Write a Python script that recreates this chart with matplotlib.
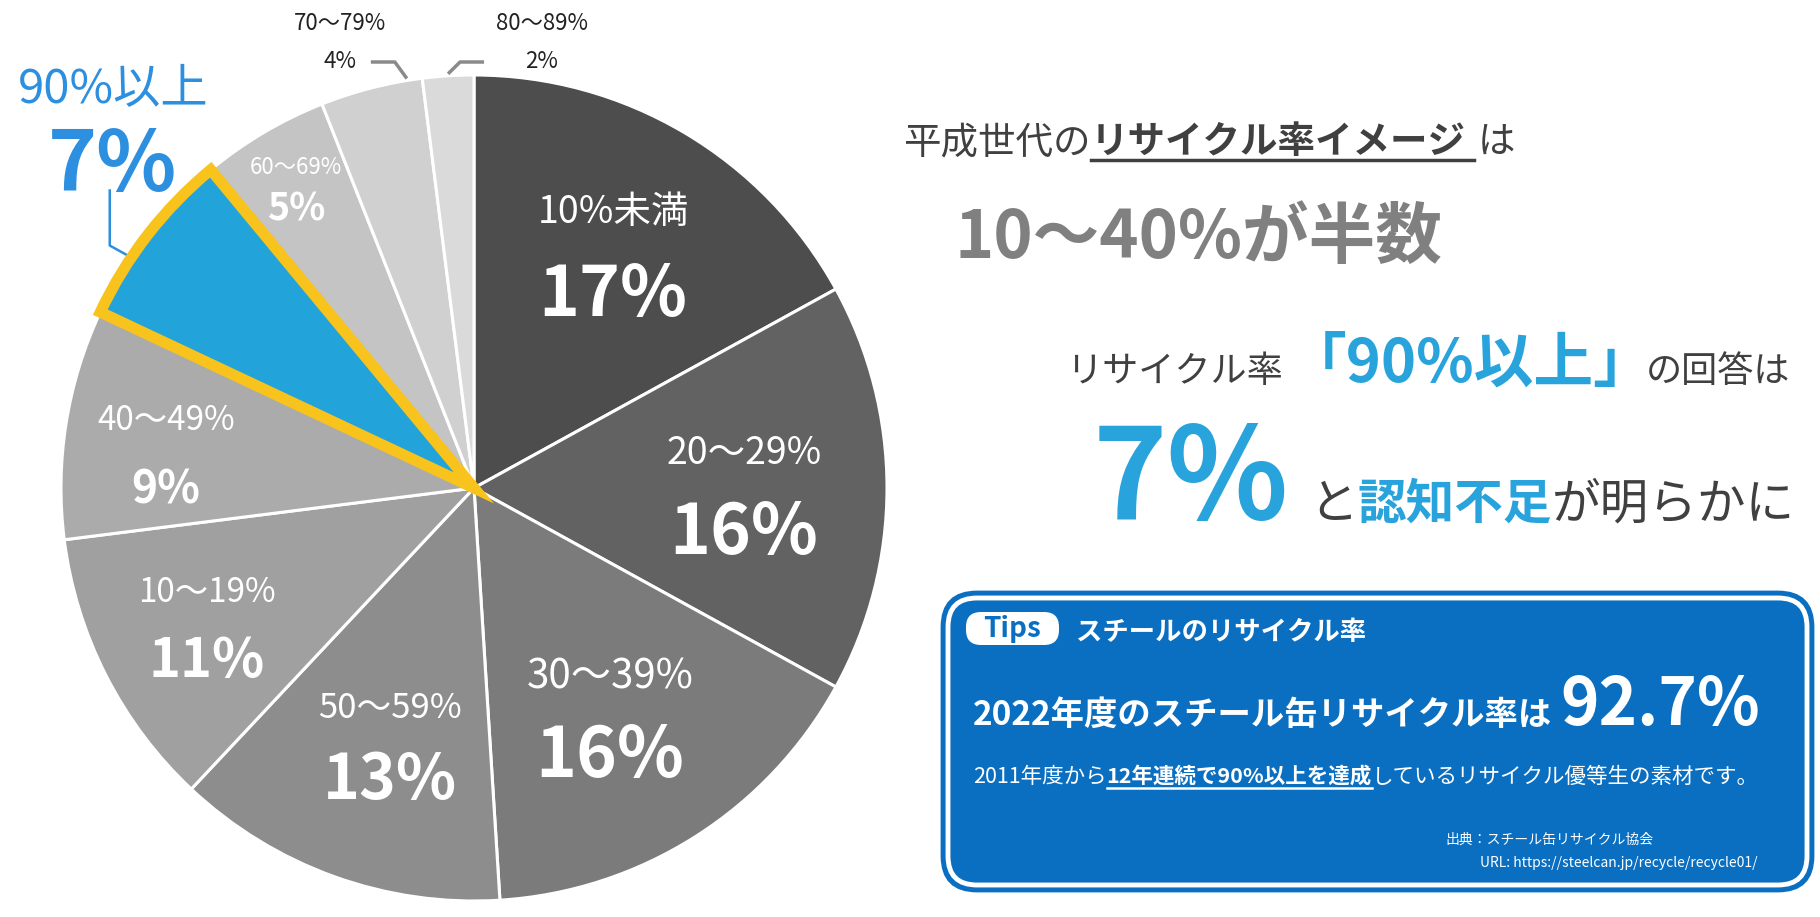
import matplotlib
matplotlib.use("Agg")
import matplotlib.pyplot as plt
from matplotlib.patches import FancyBboxPatch
import numpy as np

plt.rcParams['font.family'] = ['Noto Sans CJK JP', 'DejaVu Sans']

# data
labels = ['10%未満', '20〜29%', '30〜39%', '50〜59%', '10〜19%',
          '40〜49%', '90%以上', '60〜69%', '70〜79%', '80〜89%']
shares = [17, 16, 16, 13, 11, 9, 7, 5, 4, 2]
colors = ['#4d4d4d', '#626262', '#7b7b7b', '#8d8d8d', '#a0a0a0',
          '#ababab', '#22a3d9', '#c4c4c4', '#d0d0d0', '#dadada']

W, H = 1820, 917
fig = plt.figure(figsize=(W / 100, H / 100), dpi=100)
ax = fig.add_axes([0, 0, 1, 1])

cx, cy, R = 474, H - 488, 413
wedges, _ = ax.pie(shares, colors=colors, startangle=90, counterclock=False,
                   center=(cx, cy), radius=R,
                   wedgeprops=dict(edgecolor='white', linewidth=2.2))
hi = labels.index('90%以上')
wedges[hi].set_edgecolor('#f7c31c')
wedges[hi].set_linewidth(8)
wedges[hi].set_joinstyle('miter')
wedges[hi].set_zorder(5)

ax.set_xlim(0, W)
ax.set_ylim(0, H)
ax.set_aspect('equal')
ax.axis('off')


def put(x, y, s, **kw):
    # y given in image pixels (top = 0)
    return ax.text(x, H - y, s, **kw)


# labels inside the pie: (x, y range, y pct, range size, pct size)
lab_pos = {
    '10%未満': (613, 212, 296, 27, 50),
    '20〜29%': (744, 453, 534, 27, 50),
    '30〜39%': (610, 677, 757, 29, 50),
    '50〜59%': (390, 708, 781, 25, 45),
    '10〜19%': (207, 592, 662, 24, 39),
    '40〜49%': (166, 421, 491, 24, 32),
    '60〜69%': (296, 168, 209, 16, 27),
}
for name, (x, y1, y2, s1, s2) in lab_pos.items():
    v = shares[labels.index(name)]
    put(x, y1, name, ha='center', va='center', color='white', fontsize=s1)
    put(x, y2, f'{v}%', ha='center', va='center', color='white',
        fontsize=s2, fontweight='bold')

# small outside labels with leader lines
for name, x, frac, side in [('70〜79%', 340, 0.15, 1), ('80〜89%', 542, 0.5, -1)]:
    i = labels.index(name)
    w = wedges[i]
    th = np.radians(w.theta1 + frac * (w.theta2 - w.theta1))
    ex, ey = cx + R * np.cos(th), cy + R * np.sin(th)
    put(x, 23, name, ha='center', va='center', color='#222222', fontsize=16)
    put(x, 62, f'{shares[i]}%', ha='center', va='center', color='#222222', fontsize=16)
    kx = ex - side * 12
    ax.plot([kx - side * 24, kx, ex], [H - 62, H - 62, ey + 2],
            color='#8a8a8a', lw=2.5, solid_capstyle='butt')

# highlighted slice label
th = np.radians(146)
ex, ey = cx + R * 0.985 * np.cos(th), cy + R * 0.985 * np.sin(th)
ax.plot([ex - 27, ex - 27, ex], [ey + 70, ey + 15, ey], color='#2d8fe0', lw=1.8)
put(113, 90, '90%以上', ha='center', va='center', color='#2d8fe0', fontsize=34)
put(113, 166, f'{shares[hi]}%', ha='center', va='center', color='#2d8fe0',
    fontsize=60, fontweight='bold')

# right-hand text
renderer = fig.canvas.get_renderer()
dark = '#404040'
blue = '#29a3db'


def chain(x, y, parts):
    out = []
    for s, gap, kw in parts:
        x += gap
        t = put(x, y, s, ha='left', va='baseline', **kw)
        bb = t.get_window_extent(renderer)
        out.append((x, bb.width))
        x += bb.width
    return out


r = chain(903, 153, [('平成世代の', 0, dict(color=dark, fontsize=27)),
                     ('リサイクル率イメージ', 0, dict(color=dark, fontsize=27, fontweight='bold')),
                     ('は', 12, dict(color=dark, fontsize=27))])
ux, uw = r[1]
ax.plot([ux, ux + uw + 8], [H - 160, H - 160], color=dark, lw=2.5)

put(955, 258, '10〜40%が半数', ha='left', va='baseline', color='#808080',
    fontsize=48, fontweight='bold')

chain(1066, 382, [('リサイクル率', 0, dict(color=dark, fontsize=26)),
                  ('「90%以上」', 4, dict(color=blue, fontsize=43, fontweight='bold')),
                  ('の回答は', -8, dict(color=dark, fontsize=26))])

chain(1093, 519, [('7%', 0, dict(color=blue, fontsize=91, fontweight='bold')),
                  ('と', 20, dict(color=dark, fontsize=35)),
                  ('認知不足', 0, dict(color=blue, fontsize=35, fontweight='bold')),
                  ('が明らかに', 0, dict(color=dark, fontsize=35))])

# tips box
bx0, by0, bx1, by1 = 942, 592, 1813, 891
box_blue = '#0b6fc1'
ax.add_patch(FancyBboxPatch((bx0 + 35, H - by1 + 35), bx1 - bx0 - 70, by1 - by0 - 70,
                            boxstyle='round,pad=35', fc=box_blue, ec=box_blue, lw=2))
ax.add_patch(FancyBboxPatch((bx0 + 35, H - by1 + 35), bx1 - bx0 - 70, by1 - by0 - 70,
                            boxstyle='round,pad=29', fc='none', ec='white', lw=3.5))
ax.add_patch(FancyBboxPatch((966 + 15, H - 645 + 15), 93 - 30, 33 - 30,
                            boxstyle='round,pad=15', fc='white', ec='none'))
put(1012, 629, 'Tips', ha='center', va='center', color=box_blue, fontsize=20, fontweight='bold')
put(1076, 640, 'スチールのリサイクル率', ha='left', va='baseline', color='white',
    fontsize=19, fontweight='bold')

chain(973, 725, [('2022年度のスチール缶リサイクル率は', 0, dict(color='white', fontsize=24, fontweight='bold')),
                 ('92.7%', 8, dict(color='white', fontsize=47, fontweight='bold'))])

r = chain(973, 783, [('2011年度から', 0, dict(color='white', fontsize=15.5)),
                     ('12年連続で90%以上を達成', 0, dict(color='white', fontsize=15.5, fontweight='bold')),
                     ('しているリサイクル優等生の素材です。', 0, dict(color='white', fontsize=15.5))])
ux, uw = r[1]
ax.plot([ux, ux + uw], [H - 788, H - 788], color='white', lw=1.8)

put(1445, 844, '出典：スチール缶リサイクル協会', ha='left', va='baseline', color='white', fontsize=10)
put(1758, 867, 'URL: https://steelcan.jp/recycle/recycle01/', ha='right', va='baseline',
    color='white', fontsize=10)

fig.savefig('out.png', dpi=100, facecolor='white')
